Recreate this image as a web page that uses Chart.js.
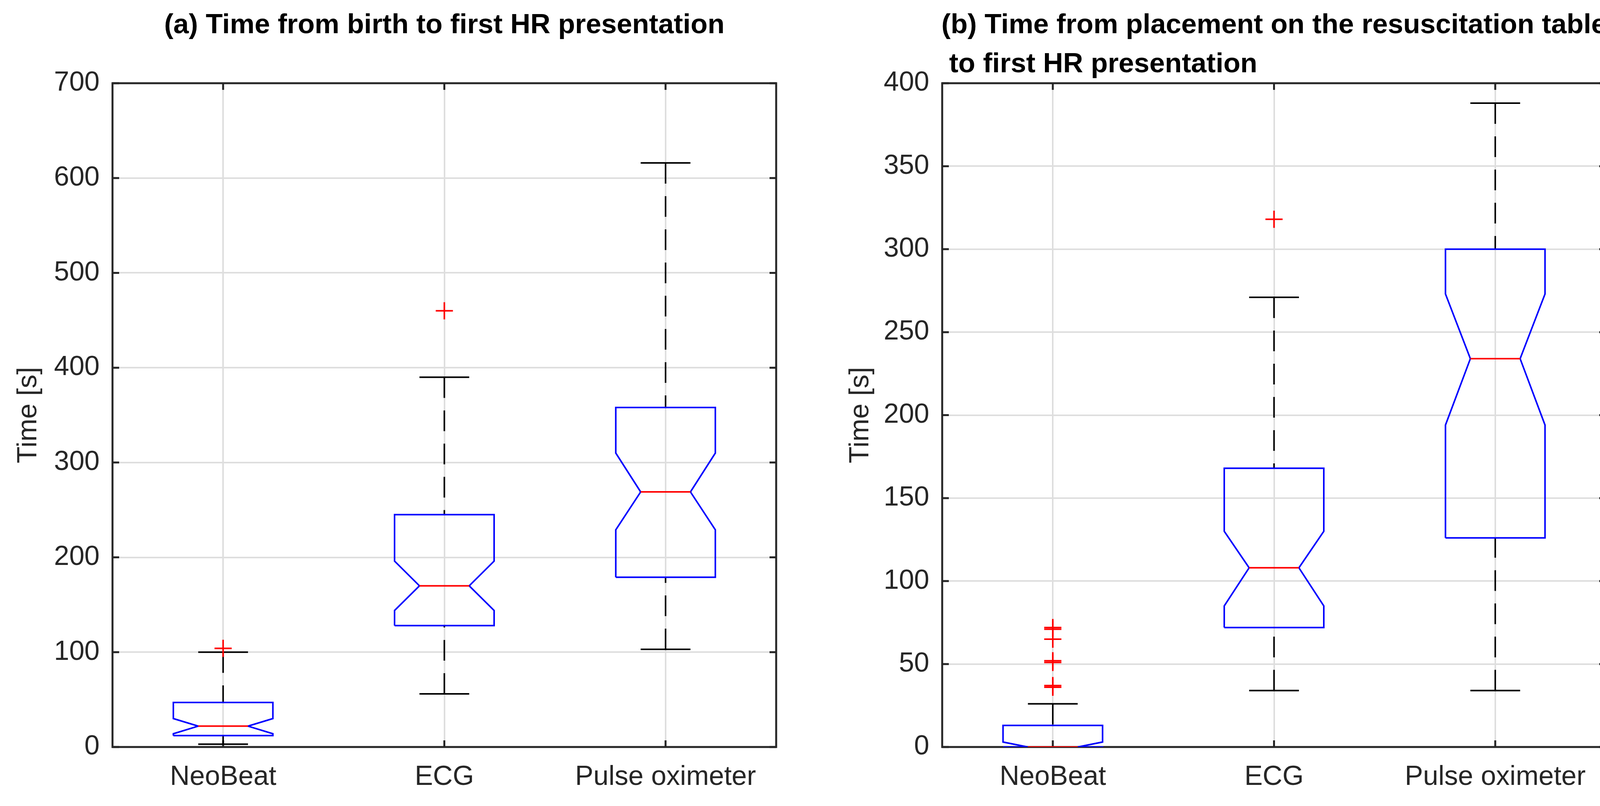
<!DOCTYPE html>
<html>
<head>
<meta charset="utf-8">
<script src="https://cdn.jsdelivr.net/npm/chart.js"></script>
<style>
  html, body { margin: 0; padding: 0; background: #fff; }
  body { width: 4152px; height: 2063px; position: relative; overflow: hidden; }
  .panel { position: absolute; top: 0; height: 2063px; }
  .title {
    position: absolute; top: 11px; width: 1699px;
    display: flex; justify-content: center;
    font-family: "Liberation Sans", Arial, Helvetica, sans-serif;
    font-weight: bold; font-size: 71px; line-height: 100px; color: #000;
  }
  .title span { white-space: pre; text-align: left; }
</style>
</head>
<body>
<div class="title" style="left:288px"><span>(a) Time from birth to first HR presentation</span></div>
<div class="title" style="left:2412px"><span>(b) Time from placement on the resuscitation table
 to first HR presentation</span></div>
<div class="panel" style="left:0;width:2100px"><canvas id="chartA" width="2100" height="2063"></canvas></div>
<div class="panel" style="left:2100px;width:2052px"><canvas id="chartB" width="2052" height="2063"></canvas></div>
<script>
const categories = ['NeoBeat', 'ECG', 'Pulse oximeter'];

// (a) time from birth
const birthLow = [3, 56, 103];
const birthQ1 = [12, 128, 179];
const birthNotchLow = [14, 144, 229];
const birthMedian = [22, 170, 269];
const birthNotchHigh = [30, 196, 310];
const birthQ3 = [47, 245, 358];
const birthHigh = [100, 390, 616];
const birthOutliers = [[104], [460], []];
const birthTicks = [0, 100, 200, 300, 400, 500, 600, 700];

// (b) time from placement on the table
const tableLow = [0, 34, 34];
const tableQ1 = [0, 72, 126];
const tableNotchLow = [-3, 85, 194];
const tableMedian = [0, 108, 234];
const tableNotchHigh = [3, 130, 273];
const tableQ3 = [13, 168, 300];
const tableHigh = [26, 271, 388];
const tableOutliers = [[36, 37, 51, 52, 65, 71, 72], [318], []];
const tableTicks = [0, 50, 100, 150, 200, 250, 300, 350, 400];

const FONT = '"Liberation Sans", Arial, Helvetica, sans-serif';
const INK = '#262626';
const BOX_HALF = 0.225;
const NOTCH_HALF = 0.1125;

function seg(points, color, order, dash) {
  return {
    type: 'line', data: points, borderColor: color, borderWidth: 4,
    borderDash: dash || [], pointRadius: 0, fill: false, tension: 0,
    borderJoinStyle: 'miter', borderCapStyle: 'butt', order: order
  };
}

function boxSets(s) {
  const sets = [];
  categories.forEach((name, i) => {
    const x = i + 1;
    sets.push(seg([{x, y: s.high[i]}, {x, y: s.q3[i]}], '#000', 3, [53, 32]));
    sets.push(seg([{x, y: s.low[i]}, {x, y: s.q1[i]}], '#000', 3, [53, 32]));
    sets.push(seg([
      {x: x - BOX_HALF, y: s.q1[i]}, {x: x - BOX_HALF, y: s.notchLow[i]},
      {x: x - NOTCH_HALF, y: s.median[i]}, {x: x - BOX_HALF, y: s.notchHigh[i]},
      {x: x - BOX_HALF, y: s.q3[i]}, {x: x + BOX_HALF, y: s.q3[i]},
      {x: x + BOX_HALF, y: s.notchHigh[i]}, {x: x + NOTCH_HALF, y: s.median[i]},
      {x: x + BOX_HALF, y: s.notchLow[i]}, {x: x + BOX_HALF, y: s.q1[i]},
      {x: x - BOX_HALF, y: s.q1[i]}
    ], '#0000ff', 2));
    sets.push(seg([{x: x - NOTCH_HALF, y: s.median[i]}, {x: x + NOTCH_HALF, y: s.median[i]}], '#ff0000', 1));
    sets.push(seg([{x: x - NOTCH_HALF, y: s.high[i]}, {x: x + NOTCH_HALF, y: s.high[i]}], '#000', 1));
    sets.push(seg([{x: x - NOTCH_HALF, y: s.low[i]}, {x: x + NOTCH_HALF, y: s.low[i]}], '#000', 1));
    if (s.outliers[i].length) {
      sets.push({
        type: 'scatter', data: s.outliers[i].map(v => ({x, y: v})),
        pointStyle: 'cross', pointRadius: 22, borderWidth: 4,
        borderColor: '#ff0000', backgroundColor: '#ff0000', order: 0
      });
    }
  });
  return sets;
}

// axes box and inward ticks, drawn below the data like MATLAB
const frame = {
  id: 'frame',
  beforeDatasetsDraw(chart) {
    const {ctx, chartArea: a, scales: {x, y}} = chart;
    ctx.save();
    ctx.strokeStyle = INK;
    ctx.lineWidth = 5;
    ctx.beginPath();
    y.ticks.forEach(t => {
      const py = y.getPixelForValue(t.value);
      ctx.moveTo(a.left, py); ctx.lineTo(a.left + 17, py);
      ctx.moveTo(a.right, py); ctx.lineTo(a.right - 17, py);
    });
    x.ticks.forEach(t => {
      const px = x.getPixelForValue(t.value);
      ctx.moveTo(px, a.bottom); ctx.lineTo(px, a.bottom - 17);
      ctx.moveTo(px, a.top); ctx.lineTo(px, a.top + 17);
    });
    ctx.stroke();
    ctx.strokeRect(a.left, a.top, a.right - a.left, a.bottom - a.top);
    ctx.restore();
  }
};

function makeChart(id, s, ticks, yWidth, padRight, titlePad) {
  return new Chart(document.getElementById(id), {
    data: {datasets: boxSets(s)},
    plugins: [frame],
    options: {
      responsive: false, animation: false, devicePixelRatio: 1, events: [],
      layout: {padding: {left: 0, top: 213, right: padRight, bottom: 0}},
      plugins: {legend: {display: false}, tooltip: {enabled: false}},
      scales: {
        x: {
          type: 'linear', min: 0.5, max: 3.5,
          afterBuildTicks: sc => { sc.ticks = categories.map((c, i) => ({value: i + 1})); },
          afterFit: sc => { sc.height = 151; },
          grid: {color: '#dedede', lineWidth: 4, drawTicks: false},
          border: {display: false},
          ticks: {
            callback: v => categories[v - 1], autoSkip: false, maxRotation: 0,
            padding: 36, color: INK, font: {family: FONT, size: 70}
          }
        },
        y: {
          type: 'linear', min: ticks[0], max: ticks[ticks.length - 1],
          afterBuildTicks: sc => { sc.ticks = ticks.map(v => ({value: v})); },
          afterFit: sc => { sc.width = yWidth; },
          grid: {color: '#dedede', lineWidth: 4, drawTicks: false},
          border: {display: false},
          ticks: {padding: 33, color: INK, font: {family: FONT, size: 70}},
          title: {
            display: true, text: 'Time [s]', color: INK,
            font: {family: FONT, size: 70}, padding: {top: titlePad, bottom: 0}
          }
        }
      }
    }
  });
}

makeChart('chartA', {
  low: birthLow, q1: birthQ1, notchLow: birthNotchLow, median: birthMedian,
  notchHigh: birthNotchHigh, q3: birthQ3, high: birthHigh, outliers: birthOutliers
}, birthTicks, 288, 113, 32);

makeChart('chartB', {
  low: tableLow, q1: tableQ1, notchLow: tableNotchLow, median: tableMedian,
  notchHigh: tableNotchHigh, q3: tableQ3, high: tableHigh, outliers: tableOutliers
}, tableTicks, 312, 41, 62);
</script>
</body>
</html>
